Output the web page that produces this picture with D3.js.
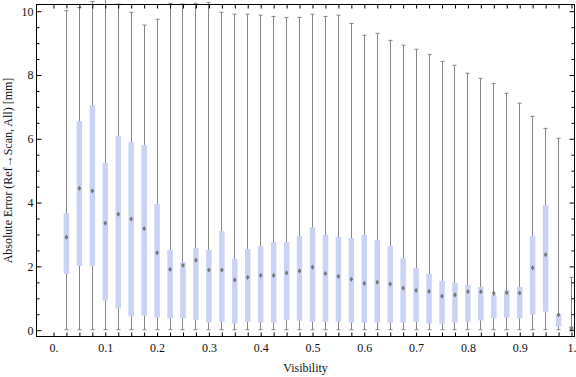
<!DOCTYPE html>
<html>
<head>
<meta charset="utf-8">
<script src="https://cdn.jsdelivr.net/npm/d3@7"></script>
<style>
  body { margin: 0; background: #fff; }
  svg { display: block; font-family: "Liberation Serif", "Times New Roman", serif; }
</style>
</head>
<body>
<div id="chart"></div>
<script>
// visibility bins (box centres)
var visibility = [0.025, 0.05, 0.075, 0.1, 0.125, 0.15, 0.175, 0.2, 0.225, 0.25,
                  0.275, 0.3, 0.325, 0.35, 0.375, 0.4, 0.425, 0.45, 0.475, 0.5,
                  0.525, 0.55, 0.575, 0.6, 0.625, 0.65, 0.675, 0.7, 0.725, 0.75,
                  0.775, 0.8, 0.825, 0.85, 0.875, 0.9, 0.925, 0.95, 0.975, 1.0];

var whiskerLow = [0, 0, 0, 0, 0, 0, 0, 0, 0, 0,
                  0, 0, 0, 0, 0, 0, 0, 0, 0, 0,
                  0, 0, 0, 0, 0, 0, 0, 0, 0, 0,
                  0, 0, 0, 0, 0, 0, 0, 0, 0, 0];

var q1 = [1.75, 2.0, 2.0, 0.91, 0.66, 0.41, 0.44, 0.38, 0.35, 0.35,
          0.31, 0.22, 0.25, 0.19, 0.25, 0.22, 0.22, 0.31, 0.28, 0.25,
          0.25, 0.25, 0.22, 0.22, 0.22, 0.22, 0.22, 0.25, 0.19, 0.19,
          0.22, 0.25, 0.29, 0.35, 0.38, 0.35, 0.47, 0.56, 0.09, 0.03];

var median = [2.9, 4.43, 4.35, 3.34, 3.62, 3.47, 3.17, 2.41, 1.89, 2.02,
              2.18, 1.87, 1.87, 1.56, 1.64, 1.7, 1.7, 1.78, 1.84, 1.96,
              1.76, 1.67, 1.58, 1.45, 1.49, 1.43, 1.3, 1.23, 1.2, 1.05,
              1.09, 1.19, 1.19, 1.14, 1.16, 1.15, 1.94, 2.35, 0.47, 0.05];

var q3 = [3.65, 6.54, 7.04, 5.22, 6.07, 5.88, 5.79, 3.94, 2.5, 2.12,
          2.56, 2.5, 3.09, 2.22, 2.53, 2.62, 2.75, 2.75, 2.94, 3.21,
          2.97, 2.91, 2.87, 2.97, 2.81, 2.62, 2.25, 1.93, 1.75, 1.53,
          1.46, 1.4, 1.34, 1.09, 1.24, 1.34, 2.94, 3.91, 0.48, 0.1];

var whiskerHigh = [10.0, 10.1, 10.29, 10.45, 10.21, 9.95, 9.55, 9.73, 10.23, 10.21,
                   10.23, 10.26, 9.95, 9.89, 9.89, 9.86, 9.82, 9.79, 9.79, 9.89,
                   9.82, 9.86, 9.6, 9.23, 9.29, 9.07, 8.92, 8.79, 8.63, 8.41,
                   8.29, 8.04, 7.88, 7.72, 7.41, 7.1, 6.69, 6.31, 6.0, 1.64];

var xLabels = ["0.", "0.1", "0.2", "0.3", "0.4", "0.5", "0.6", "0.7", "0.8", "0.9", "1."];
var yLabels = ["0", "2", "4", "6", "8", "10"];

(function() {
    'use strict';

    var width = 576, height = 377;
    var frame = {left: 36, right: 575, top: 4, bottom: 337};

    var svg = d3.select("#chart").append("svg")
        .attr("width", width)
        .attr("height", height);

    var x = d3.scaleLinear().domain([-0.0328, 1.0077]).range([frame.left, frame.right]);
    var y = d3.scaleLinear().domain([-0.23, 10.21]).range([frame.bottom, frame.top]);

    var defs = svg.append("defs");
    defs.append("filter").attr("id", "soft")
        .attr("x", "-50%").attr("y", "-50%").attr("width", "200%").attr("height", "200%")
        .append("feGaussianBlur").attr("stdDeviation", 0.5);

    var rows = visibility.map(function(v, i) {
        return {v: v, lo: whiskerLow[i], q1: q1[i], med: median[i], q3: q3[i], hi: whiskerHigh[i]};
    });

    var boxW = 5.5, capW = 4;
    var px = function(d) { return Math.round(x(d.v)) + 0.5; };

    var g = svg.append("g");

    // whiskers
    g.selectAll(".whisker").data(rows).enter().append("line")
        .attr("class", "whisker")
        .attr("x1", px).attr("x2", px)
        .attr("y1", function(d) { return y(d.lo); })
        .attr("y2", function(d) { return y(d.hi); })
        .attr("stroke", "#858585").attr("stroke-width", 1);

    // caps
    ["lo", "hi"].forEach(function(k) {
        g.selectAll(".cap-" + k).data(rows).enter().append("line")
            .attr("class", "cap-" + k)
            .attr("x1", function(d) { return px(d) - capW / 2; })
            .attr("x2", function(d) { return px(d) + capW / 2; })
            .attr("y1", function(d) { return y(d[k]); })
            .attr("y2", function(d) { return y(d[k]); })
            .attr("stroke", "#858585").attr("stroke-width", 1);
    });

    // boxes
    g.selectAll(".box").data(rows).enter().append("rect")
        .attr("class", "box")
        .attr("x", function(d) { return x(d.v) - boxW / 2 + 0.5; })
        .attr("width", boxW)
        .attr("y", function(d) { return y(d.q3); })
        .attr("height", function(d) { return y(d.q1) - y(d.q3); })
        .attr("fill", "#cbd3f5");

    // median markers
    g.selectAll(".med").data(rows).enter().append("path")
        .attr("class", "med")
        .attr("d", function(d) {
            var cx = x(d.v) + 0.5, cy = y(d.med);
            return "M" + cx + "," + (cy - 2.6) + "L" + (cx + 1.8) + "," + cy +
                   "L" + cx + "," + (cy + 2.6) + "L" + (cx - 1.8) + "," + cy + "Z";
        })
        .attr("fill", "#747474")
        .attr("filter", "url(#soft)");

    // frame
    svg.append("rect")
        .attr("x", frame.left + 0.5).attr("y", frame.top + 0.5)
        .attr("width", frame.right - frame.left - 1).attr("height", frame.bottom - frame.top - 1)
        .attr("fill", "none").attr("stroke", "#000").attr("stroke-width", 1);

    // ticks
    var xTicks = d3.range(0, 41).map(function(i) { return i * 0.025; });
    var yTicks = d3.range(0, 21).map(function(i) { return i * 0.5; });
    var isTenth = function(d) { return Math.abs(d * 10 - Math.round(d * 10)) < 1e-6; };

    svg.append("g")
        .attr("transform", "translate(0.5," + (frame.bottom - 0.5) + ")")
        .call(d3.axisBottom(x).tickValues(xTicks).tickSizeInner(-4).tickSizeOuter(0).tickPadding(7)
            .tickFormat(function(d) { return isTenth(d) ? xLabels[Math.round(d * 10)] : ""; }));
    svg.append("g")
        .attr("transform", "translate(0.5," + (frame.top + 0.5) + ")")
        .call(d3.axisTop(x).tickValues(xTicks).tickSizeInner(-4).tickSizeOuter(0).tickFormat(""));

    var yAxis = svg.append("g")
        .attr("transform", "translate(" + (frame.left + 0.5) + ",0.5)")
        .call(d3.axisLeft(y).tickValues(yTicks).tickSizeInner(-5).tickSizeOuter(0).tickPadding(3)
            .tickFormat(function(d) { return d % 2 === 0 ? yLabels[d / 2] : ""; }));
    var yAxisR = svg.append("g")
        .attr("transform", "translate(" + (frame.right - 0.5) + ",0.5)")
        .call(d3.axisRight(y).tickValues(yTicks).tickSizeInner(-5).tickSizeOuter(0).tickFormat(""));

    yAxis.selectAll(".tick line").attr("x2", function(d) { return d % 2 === 0 ? 5 : 3; });
    yAxisR.selectAll(".tick line").attr("x2", function(d) { return d % 2 === 0 ? -5 : -3; });

    svg.selectAll(".domain").remove();
    svg.selectAll(".tick line").attr("stroke", "#000");
    svg.selectAll(".tick text")
        .attr("fill", "#111")
        .style("font-family", "'Liberation Serif', 'Times New Roman', serif")
        .style("font-size", "12px");

    // axis titles
    svg.append("text")
        .attr("x", (frame.left + frame.right) / 2).attr("y", 372)
        .attr("text-anchor", "middle")
        .style("font-size", "12px")
        .attr("fill", "#111")
        .text("Visibility");

    svg.append("text")
        .attr("transform", "translate(12," + ((frame.top + frame.bottom) / 2) + ") rotate(-90)")
        .attr("text-anchor", "middle")
        .style("font-size", "12px")
        .attr("fill", "#111")
        .text("Absolute Error (Ref\u2192Scan, All) [mm]");
})();
</script>
</body>
</html>
